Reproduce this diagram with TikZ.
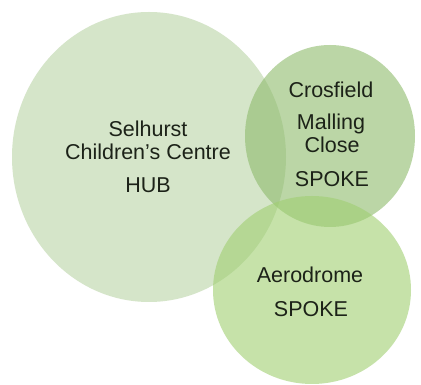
\documentclass[tikz,border=0pt]{standalone}
\usepackage{fontspec}
\setmainfont{Liberation Sans}
\usetikzlibrary{shapes.geometric}
\definecolor{hubfill}{RGB}{213,229,201}
\definecolor{crosfill}{RGB}{142,187,108}
\definecolor{aerofill}{RGB}{160,207,113}
\definecolor{txt}{RGB}{28,34,24}
\tikzset{
  blob/.style={ellipse, draw=none, inner sep=0pt},
  lbl/.style={anchor=base, inner sep=0pt, text=txt, font=\fontsize{21.5}{24}\selectfont}
}
\begin{document}
\begin{tikzpicture}[x=1pt,y=1pt]
\useasboundingbox (0,0) rectangle (421,385);
\fill[white] (0,0) rectangle (421,385);
\node[blob, fill=hubfill, minimum width=274pt, minimum height=290pt] (hub) at (149,228) {};
\node[blob, fill=crosfill, fill opacity=0.6, minimum width=170pt, minimum height=182pt] (cros) at (330,249) {};
\node[blob, fill=aerofill, fill opacity=0.6, minimum width=198pt, minimum height=188pt] (aero) at (312,95) {};
\node[lbl] (h1) at (148,248) {Selhurst};
\node[lbl] (h2) at (148,225) {Children’s Centre};
\node[lbl] (h3) at (148,192) {HUB};
\node[lbl] (c1) at (331,287) {Crosfield};
\node[lbl] (c2) at (331,255) {Malling};
\node[lbl] (c3) at (332,232) {Close};
\node[lbl] (c4) at (332,198) {SPOKE};
\node[lbl] (a1) at (310,102) {Aerodrome};
\node[lbl] (a2) at (311,68) {SPOKE};
\end{tikzpicture}
\end{document}
